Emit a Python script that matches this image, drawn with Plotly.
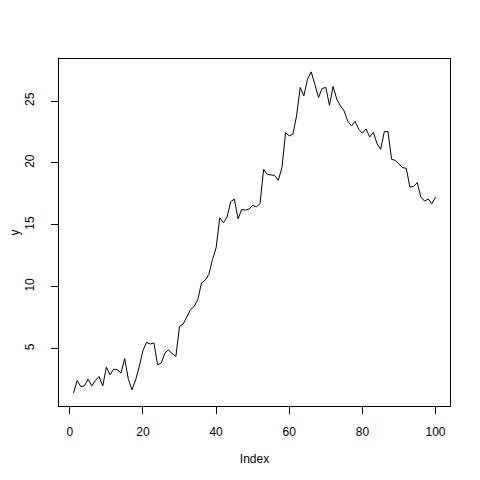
import plotly.graph_objects as go

index = list(range(1, 101))
y = [1.40, 2.42, 1.94, 1.99, 2.53, 1.99, 2.42, 2.75, 1.99, 3.50,
     2.88, 3.34, 3.29, 3.02, 4.20, 2.53, 1.67, 2.48, 3.55, 4.85,
     5.50, 5.37, 5.45, 3.69, 3.83, 4.64, 4.91, 4.58, 4.37, 6.80,
     6.99, 7.60, 8.15, 8.41, 8.96, 10.31, 10.52, 10.98, 12.19, 13.14,
     15.57, 15.16, 15.62, 16.87, 17.08, 15.49, 16.24, 16.19, 16.27, 16.57,
     16.46, 16.70, 19.48, 19.08, 19.02, 18.99, 18.59, 19.62, 22.45, 22.18,
     22.32, 23.80, 26.10, 25.42, 26.77, 27.36, 26.36, 25.29, 26.02, 26.10,
     24.66, 26.18, 25.15, 24.61, 24.20, 23.39, 22.99, 23.37, 22.72, 22.40,
     22.75, 22.10, 22.48, 21.56, 21.10, 22.53, 22.53, 20.29, 20.21, 19.89,
     19.62, 19.57, 18.05, 18.10, 18.41, 17.24, 16.92, 17.08, 16.70, 17.24]
x_ticks = [0, 20, 40, 60, 80, 100]
y_ticks = [5, 10, 15, 20, 25]

def pad(lo, hi, f=0.04):
    d = (hi - lo) * f
    return [lo - d, hi + d]

font = dict(family="Liberation Sans, Arial, Helvetica, sans-serif", size=12, color="black")

fig = go.Figure(go.Scatter(x=index, y=y, mode="lines",
                           line=dict(color="black", width=1), hoverinfo="skip"))

fig.update_layout(
    width=472, height=472,
    margin=dict(l=51, r=30, t=51, b=74),
    paper_bgcolor="white", plot_bgcolor="white",
    showlegend=False, font=font,
)
fig.update_xaxes(
    range=pad(min(index), max(index)), tickvals=x_ticks,
    showgrid=False, zeroline=False, automargin=False,
    showline=True, linecolor="black", linewidth=1, mirror=True,
    ticks="outside", ticklen=7, tickcolor="black", tickwidth=1,
    ticklabelstandoff=8,
    title=dict(text="Index", standoff=16, font=font),
)
fig.update_yaxes(
    range=pad(min(y), max(y)), tickvals=y_ticks, tickangle=-90,
    showgrid=False, zeroline=False, automargin=False,
    showline=True, linecolor="black", linewidth=1, mirror=True,
    ticks="outside", ticklen=7, tickcolor="black", tickwidth=1,
    ticklabelstandoff=12,
    title=dict(text="y", standoff=13, font=font),
)
fig.write_html("out.html")
